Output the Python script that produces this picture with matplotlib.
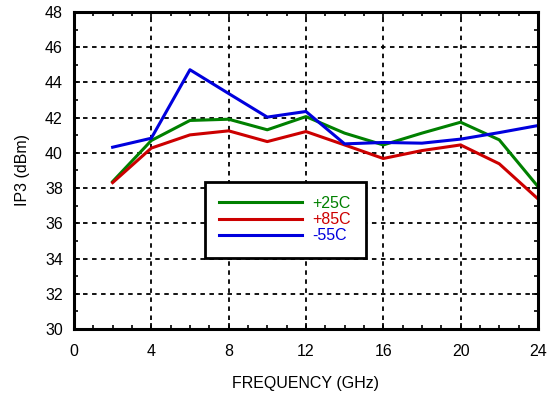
import matplotlib
matplotlib.use('Agg')
import matplotlib.pyplot as plt
from matplotlib.ticker import MultipleLocator

plt.rcParams['font.family'] = ['Liberation Sans', 'DejaVu Sans']

freq = [2, 4, 6, 8, 10, 12, 14, 16, 18, 20, 22, 24]
ip3_25 = [38.37, 40.70, 41.84, 41.91, 41.31, 42.06, 41.12, 40.45, 41.12, 41.74, 40.74, 38.09]
ip3_85 = [38.31, 40.27, 41.02, 41.25, 40.64, 41.21, 40.45, 39.68, 40.13, 40.45, 39.38, 37.39]
ip3_m55 = [40.32, 40.83, 44.72, 43.37, 42.03, 42.35, 40.51, 40.59, 40.55, 40.78, 41.15, 41.55]

labels = ['+25C', '+85C', '-55C']
colors = ['#008000', '#cc0000', '#0000dd']

fig = plt.figure(figsize=(5.5, 3.93), dpi=100)
ax = fig.add_axes([0.1345, 0.163, 0.8435, 0.8065])

for y, lab, c in zip([ip3_25, ip3_85, ip3_m55], labels, colors):
    ax.plot(freq, y, color=c, lw=2.2, label=lab)

ax.set_xlim(0, 24)
ax.set_ylim(30, 48)
ax.xaxis.set_major_locator(MultipleLocator(4))
ax.xaxis.set_minor_locator(MultipleLocator(1))
ax.yaxis.set_major_locator(MultipleLocator(2))
ax.yaxis.set_minor_locator(MultipleLocator(1))
ax.tick_params(which='both', direction='in', top=True, right=True, labelsize=11.5, colors='black')
ax.tick_params(which='major', length=4, width=1.2)
ax.tick_params(axis='x', which='major', pad=11)
ax.tick_params(axis='y', which='major', pad=8)
ax.tick_params(which='minor', length=3, width=1.2)
ax.grid(True, which='major', color='black', linestyle=(0, (2.5, 2.5)), linewidth=1.3)
for s in ax.spines.values():
    s.set_linewidth(2.2)

ax.set_xlabel('FREQUENCY (GHz)', fontsize=11.5, labelpad=12)
ax.set_ylabel('IP3 (dBm)', fontsize=11.5, labelpad=11)

leg = ax.legend(loc='upper left', bbox_to_anchor=(0.282, 0.465), fontsize=11.5,
                handlelength=5.2, handletextpad=0.65, borderpad=0.9, labelspacing=0.08,
                fancybox=False, framealpha=1, edgecolor='black', borderaxespad=0)
leg.get_frame().set_linewidth(2)
for t, c in zip(leg.get_texts(), colors):
    t.set_color(c)

fig.savefig('out.png', dpi=100)
